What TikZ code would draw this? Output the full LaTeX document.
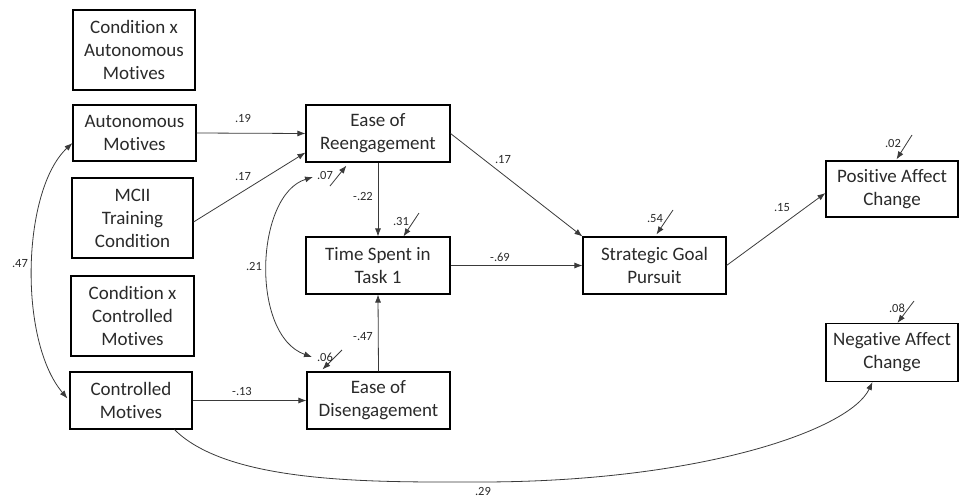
\documentclass[tikz,border=0pt]{standalone}
\usepackage{fontspec}
\setmainfont[Ligatures={NoCommon}]{Carlito}
\usetikzlibrary{arrows.meta,calc}
\definecolor{lncol}{HTML}{3A3A3A}
\definecolor{txcol}{HTML}{2A2A2A}
\tikzset{
  box/.style={draw=black,line width=1.1pt,inner sep=0pt,align=center,
    font=\fontsize{19}{23}\selectfont,text=txcol},
  path/.style={draw=lncol,line width=0.8pt,-{Latex[length=8pt,width=6pt]}},
  dpath/.style={draw=lncol,line width=0.8pt,{Latex[length=8pt,width=6pt]}-{Latex[length=8pt,width=6pt]}},
  lbl/.style={font=\fontsize{12.5}{14}\selectfont,text=txcol,inner sep=0pt}
}
\begin{document}
\begin{tikzpicture}[x=1pt,y=-1pt]
\useasboundingbox (0,0) rectangle (959,498);
% boxes
\node[box,minimum width=122pt,minimum height=80pt] (CxA) at (134,50) {Condition x\\Autonomous\\Motives};
\node[box,minimum width=123pt,minimum height=56pt] (AM) at (134.5,133) {Autonomous\\Motives};
\node[box,minimum width=121pt,minimum height=80pt] (MCII) at (132.5,218) {MCII\\Training\\Condition};
\node[box,minimum width=123pt,minimum height=80pt] (CxC) at (132.5,316) {Condition x\\Controlled\\Motives};
\node[box,minimum width=122pt,minimum height=57pt] (CM) at (131,400.5) {Controlled\\Motives};
\node[box,minimum width=144pt,minimum height=57pt] (ER) at (378,133.5) {Ease of\\Reengagement};
\node[box,minimum width=144pt,minimum height=57pt] (TS) at (378,265.5) {Time Spent in\\Task 1};
\node[box,minimum width=143pt,minimum height=57pt] (ED) at (378.5,400.5) {Ease of\\Disengagement};
\node[box,minimum width=143pt,minimum height=57pt] (SGP) at (654.5,265.5) {Strategic Goal\\Pursuit};
\node[box,minimum width=132pt,minimum height=56pt] (PAC) at (892,189) {Positive Affect\\Change};
\node[box,minimum width=132pt,minimum height=58pt] (NAC) at (892,352.5) {Negative Affect\\Change};
% paths
\draw[path] (AM.east) -- (ER.west);
\node[lbl] (l19) at (243,118) {.19};
\draw[path] ($(MCII.east)+(0,4)$) -- ($(ER.south west)+(0,-10)$);
\node[lbl] (l17a) at (243,177) {.17};
\draw[path] (ER.south) -- (TS.north);
\node[lbl] (l22) at (363,196) {-.22};
\draw[path] (ED.north) -- (TS.south);
\node[lbl] (l47b) at (363,337) {-.47};
\draw[path] (CM.east) -- (ED.west);
\node[lbl] (l13) at (242,391) {-.13};
\draw[path] (ER.east) -- (SGP.north west);
\node[lbl] (l17b) at (503,160) {.17};
\draw[path] (TS.east) -- (SGP.west);
\node[lbl] (l69) at (500,257) {-.69};
\draw[path] (SGP.east) -- ($(PAC.west)+(0,4)$);
\node[lbl] (l15) at (782,208) {.15};
% correlations
\draw[dpath] ($(AM.west)+(0,10)$) .. controls (22,190) and (18,340) .. ($(CM.west)+(-2,-2)$);
\node[lbl] (l47) at (20,264) {.47};
\coordinate (erres) at (313,177);
\coordinate (edres) at (312,357);
\draw[dpath] (erres) .. controls (255,195) and (250,335) .. (edres);
\node[lbl] (l21) at (254,266) {.21};
% residuals
\coordinate (r07) at (330,186);
\draw[path] (r07) -- ($(ER.south west)+(41,3)$);
\node[lbl] (l07) at (325,175) {.07};
\coordinate (r31) at (419,213);
\draw[path] (r31) -- ($(TS.north west)+(98,0)$);
\node[lbl] (l31) at (401,221) {.31};
\coordinate (r06) at (342,350);
\draw[path] (r06) -- ($(ED.north west)+(16,-2)$);
\node[lbl] (l06) at (325,357) {.06};
\coordinate (r54) at (673,210);
\draw[path] (r54) -- ($(SGP.north west)+(74,-2)$);
\node[lbl] (l54) at (655,219) {.54};
\coordinate (r02) at (912,135);
\draw[path] (r02) -- ($(PAC.north west)+(71,-1)$);
\node[lbl] (l02) at (893,143) {.02};
\coordinate (r08) at (914,301);
\draw[path] (r08) -- ($(NAC.north west)+(72,0)$);
\node[lbl] (l08) at (897,308) {.08};
% long curve
\draw[path] ($(CM.south west)+(105,0)$) .. controls (230,485) and (380,482) .. (480,482)
  .. controls (700,482) and (850,430) .. ($(NAC.south west)+(47,0)$);
\node[lbl] (l29) at (483,491) {.29};
\end{tikzpicture}
\end{document}
